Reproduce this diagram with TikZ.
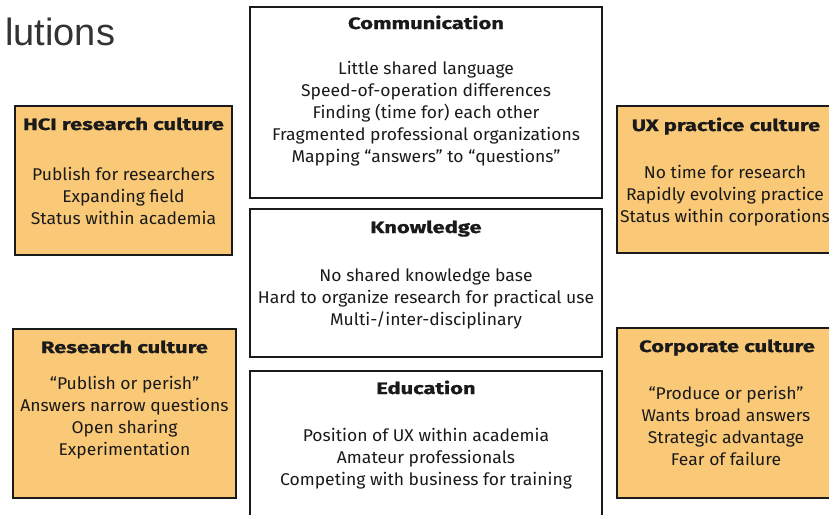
\documentclass[tikz,border=0pt]{standalone}
\usepackage{fontspec}
\setmainfont{Fira Sans}[FakeStretch=1.03]
\newfontfamily\headfont{Fira Sans}[UprightFont=*-Bold,FakeStretch=1.33,FakeBold=1]
\newfontfamily\titlefont{Liberation Sans}
\definecolor{cultfill}{HTML}{F9C977}
\definecolor{ink}{HTML}{1A1A1A}
\begin{document}
\begin{tikzpicture}[x=1pt,y=-1pt,
  panel/.style={draw=ink,line width=2.8pt},
  cult/.style={panel,fill=cultfill},
  head/.style={anchor=base,inner sep=0pt,text=ink,font=\headfont\fontsize{16.5}{20}\selectfont},
  body/.style={anchor=base,inner sep=0pt,text=ink,align=center,font=\fontsize{17}{22}\selectfont}]
\useasboundingbox (0,0) rectangle (829,514);
\clip (0,0) rectangle (829,514);
\fill[white] (0,0) rectangle (829,514);

% title fragment
\node[anchor=base west,inner sep=0pt,text=black!80,font=\titlefont\fontsize{38}{40}\selectfont] (title) at (5,45) {lutions};

% central issue panels
\draw[panel] (250,7) rectangle (602,198) coordinate (comm);
\draw[panel] (250,209) rectangle (602,357) coordinate (know);
\draw[panel] (250,371) rectangle (602,540) coordinate (edu);

% culture panels
\draw[cult] (15,106) rectangle (232,255) coordinate (hci);
\draw[cult] (617,106) rectangle (845,253) coordinate (ux);
\draw[cult] (13,329) rectangle (236,498) coordinate (res);
\draw[cult] (617,328) rectangle (845,498) coordinate (corp);

% Communication (base anchor sits on the last line)
\node[head] (commh) at (426,29) {Communication};
\node[body] (commb) at (426,162) {Little shared language\\Speed-of-operation differences\\Finding (time for) each other\\Fragmented professional organizations\\Mapping “answers” to “questions”};

% Knowledge
\node[head] (knowh) at (426,233) {Knowledge};
\node[body] (knowb) at (426,325) {No shared knowledge base\\Hard to organize research for practical use\\Multi-/inter-disciplinary};

% Education
\node[head] (eduh) at (426,394) {Education};
\node[body] (edub) at (426,485) {Position of UX within academia\\Amateur professionals\\Competing with business for training};

% HCI research culture
\node[head] (hcih) at (123.5,130) {HCI research culture};
\node[body] (hcib) at (123.5,224) {Publish for researchers\\Expanding field\\Status within academia};

% UX practice culture
\node[head] (uxh) at (726,131) {UX practice culture};
\node[body] (uxb) at (725,222) {No time for research\\Rapidly evolving practice\\Status within corporations};

% Research culture
\node[head] (resh) at (124.5,353) {Research culture};
\node[body] (resb) at (124.5,455) {“Publish or perish”\\Answers narrow questions\\Open sharing\\Experimentation};

% Corporate culture
\node[head] (corph) at (727,352) {Corporate culture};
\node[body] (corpb) at (726,465) {“Produce or perish”\\Wants broad answers\\Strategic advantage\\Fear of failure};
\end{tikzpicture}
\end{document}
